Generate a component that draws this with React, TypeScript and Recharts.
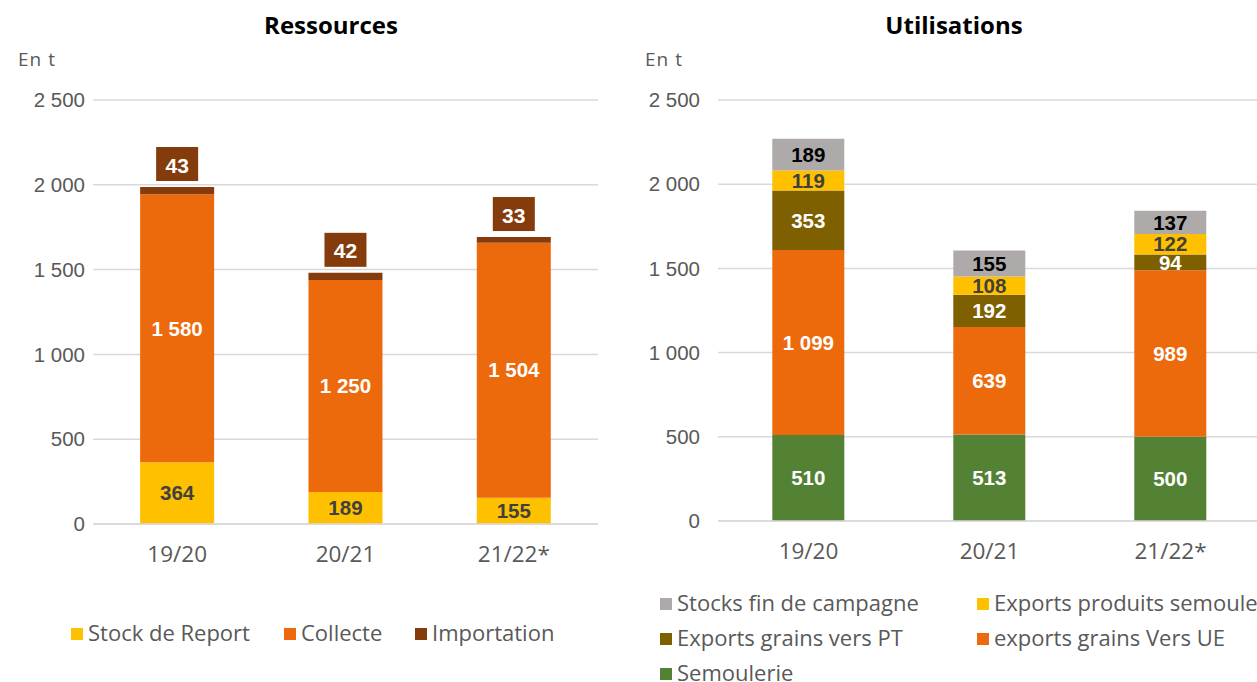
import React from "react";
import { BarChart, Bar, XAxis, YAxis, CartesianGrid, LabelList } from "recharts";

const categories = ["19/20", "20/21", "21/22*"];
const yTicks = [0, 500, 1000, 1500, 2000, 2500];

// Ressources
const stockReport = [364, 189, 155];
const collecte = [1580, 1250, 1504];
const importation = [43, 42, 33];

// Utilisations
const semoulerie = [510, 513, 500];
const exportsUE = [1099, 639, 989];
const exportsPT = [353, 192, 94];
const exportsSemoule = [119, 108, 122];
const stocksFin = [189, 155, 137];

const resData = categories.map((c, i) => ({
  cat: c,
  stock: stockReport[i],
  collecte: collecte[i],
  importation: importation[i],
}));

const useData = categories.map((c, i) => ({
  cat: c,
  sem: semoulerie[i],
  ue: exportsUE[i],
  pt: exportsPT[i],
  semoule: exportsSemoule[i],
  stocks: stocksFin[i],
}));

const C_YELLOW = "#FFC000";
const C_ORANGE = "#EC6A0C";
const C_BROWN = "#843C0C";
const C_GRAY = "#AEAAAA";
const C_OLIVE = "#7F6000";
const C_GREEN = "#548235";

const fmt = (v: number) => {
  const s = String(Math.round(v));
  return s.replace(/\B(?=(\d{3})+(?!\d))/g, " ");
};

const YTICK_FONT = "'Liberation Sans', Arial, sans-serif";
const XTICK_FONT = "'Open Sans', 'Noto Sans', sans-serif";
const LABEL_FONT = "'Liberation Sans', Arial, sans-serif";
const LEGEND_FONT = "'Open Sans', 'Noto Sans', sans-serif";

const labelStyle = (fill: string) => ({
  fill,
  fontFamily: LABEL_FONT,
  fontWeight: 700 as const,
  fontSize: 20.5,
});

const ImportLabel = (props: any) => {
  const { x, y, width, value } = props;
  const cx = Number(x) + Number(width) / 2;
  const bw = 42;
  const bh = 34;
  const by = Number(y) - 6 - bh;
  return (
    <g>
      <rect x={cx - bw / 2} y={by} width={bw} height={bh} fill={C_BROWN} />
      <text
        x={cx}
        y={by + bh / 2 + 1}
        textAnchor="middle"
        dominantBaseline="central"
        fill="#FFFFFF"
        fontFamily={LABEL_FONT}
        fontWeight={700}
        fontSize={21}
      >
        {fmt(value)}
      </text>
    </g>
  );
};

const Sq = ({ color }: { color: string }) => (
  <span
    style={{
      display: "inline-block",
      width: 12,
      height: 12,
      background: color,
      marginRight: 5,
      verticalAlign: "middle",
      position: "relative",
      top: -1,
    }}
  />
);

const legendText: React.CSSProperties = {
  fontFamily: LEGEND_FONT,
  fontSize: 22,
  color: "#595959",
  whiteSpace: "nowrap",
  position: "absolute",
  lineHeight: "26px",
};

const titleStyle: React.CSSProperties = {
  position: "absolute",
  fontFamily: "'Open Sans', 'Noto Sans', sans-serif",
  fontWeight: 700,
  fontSize: 24,
  color: "#000000",
  transform: "translateX(-50%)",
  whiteSpace: "nowrap",
  top: 8,
};

const unitStyle: React.CSSProperties = {
  position: "absolute",
  fontFamily: LEGEND_FONT,
  fontSize: 19,
  color: "#595959",
  top: 46,
  letterSpacing: 1,
};

const yTickStyle = { fill: "#595959", fontFamily: YTICK_FONT, fontSize: 20.5 };
const xTickStyle = { fill: "#595959", fontFamily: XTICK_FONT, fontSize: 22.5 };

export default function App() {
  return (
    <div
      style={{
        position: "absolute",
        left: 0,
        top: 0,
        width: 1257,
        height: 682,
        overflow: "hidden",
        background: "#FFFFFF",
      }}
    >
      <div style={{ ...titleStyle, left: 331 }}>Ressources</div>
      <div style={{ ...titleStyle, left: 954 }}>Utilisations</div>
      <div style={{ ...unitStyle, left: 18 }}>En t</div>
      <div style={{ ...unitStyle, left: 645 }}>En t</div>

      <div style={{ position: "absolute", left: 0, top: 0 }}>
        <BarChart
          width={620}
          height={682}
          data={resData}
          margin={{ top: 100, right: 22, bottom: 118, left: 0 }}
          barCategoryGap="28%"
        >
          <CartesianGrid vertical={false} stroke="#D9D9D9" strokeWidth={1.5} />
          <XAxis
            dataKey="cat"
            height={40}
            axisLine={{ stroke: "#D9D9D9", strokeWidth: 1.5 }}
            tickLine={false}
            tick={xTickStyle}
            tickMargin={16}
          />
          <YAxis
            width={93}
            domain={[0, 2500]}
            ticks={yTicks}
            axisLine={false}
            tickLine={false}
            tickSize={0}
            tickMargin={8}
            tick={yTickStyle}
            tickFormatter={fmt}
            interval={0}
          />
          <Bar dataKey="stock" stackId="a" fill={C_YELLOW} isAnimationActive={false}>
            <LabelList dataKey="stock" position="center" formatter={fmt} style={labelStyle("#404040")} />
          </Bar>
          <Bar dataKey="collecte" stackId="a" fill={C_ORANGE} isAnimationActive={false}>
            <LabelList dataKey="collecte" position="center" formatter={fmt} style={labelStyle("#FFFFFF")} />
          </Bar>
          <Bar dataKey="importation" stackId="a" fill={C_BROWN} isAnimationActive={false}>
            <LabelList dataKey="importation" content={ImportLabel} />
          </Bar>
        </BarChart>
      </div>

      <div style={{ position: "absolute", left: 625, top: 0 }}>
        <BarChart
          width={640}
          height={682}
          data={useData}
          margin={{ top: 100, right: 4, bottom: 121, left: 0 }}
          barCategoryGap="30%"
        >
          <CartesianGrid vertical={false} stroke="#D9D9D9" strokeWidth={1.5} />
          <XAxis
            dataKey="cat"
            height={40}
            axisLine={{ stroke: "#D9D9D9", strokeWidth: 1.5 }}
            tickLine={false}
            tick={xTickStyle}
            tickMargin={16}
          />
          <YAxis
            width={93}
            domain={[0, 2500]}
            ticks={yTicks}
            axisLine={false}
            tickLine={false}
            tickSize={0}
            tickMargin={18}
            tick={yTickStyle}
            tickFormatter={fmt}
            interval={0}
          />
          <Bar dataKey="sem" stackId="b" fill={C_GREEN} isAnimationActive={false}>
            <LabelList dataKey="sem" position="center" formatter={fmt} style={labelStyle("#FFFFFF")} />
          </Bar>
          <Bar dataKey="ue" stackId="b" fill={C_ORANGE} isAnimationActive={false}>
            <LabelList dataKey="ue" position="center" formatter={fmt} style={labelStyle("#FFFFFF")} />
          </Bar>
          <Bar dataKey="pt" stackId="b" fill={C_OLIVE} isAnimationActive={false}>
            <LabelList dataKey="pt" position="center" formatter={fmt} style={labelStyle("#FFFFFF")} />
          </Bar>
          <Bar dataKey="semoule" stackId="b" fill={C_YELLOW} isAnimationActive={false}>
            <LabelList dataKey="semoule" position="center" formatter={fmt} style={labelStyle("#404040")} />
          </Bar>
          <Bar dataKey="stocks" stackId="b" fill={C_GRAY} isAnimationActive={false}>
            <LabelList dataKey="stocks" position="center" formatter={fmt} style={labelStyle("#000000")} />
          </Bar>
        </BarChart>
      </div>

      {/* Legends */}
      <div style={{ ...legendText, left: 71, top: 619 }}>
        <Sq color={C_YELLOW} />Stock de Report
      </div>
      <div style={{ ...legendText, left: 284, top: 619 }}>
        <Sq color={C_ORANGE} />Collecte
      </div>
      <div style={{ ...legendText, left: 415, top: 619 }}>
        <Sq color={C_BROWN} />Importation
      </div>

      <div style={{ ...legendText, left: 660, top: 589 }}>
        <Sq color={C_GRAY} />Stocks fin de campagne
      </div>
      <div style={{ ...legendText, left: 977, top: 589 }}>
        <Sq color={C_YELLOW} />Exports produits semoule
      </div>
      <div style={{ ...legendText, left: 660, top: 624 }}>
        <Sq color={C_OLIVE} />Exports grains vers PT
      </div>
      <div style={{ ...legendText, left: 977, top: 624 }}>
        <Sq color={C_ORANGE} />exports grains Vers UE
      </div>
      <div style={{ ...legendText, left: 660, top: 659 }}>
        <Sq color={C_GREEN} />Semoulerie
      </div>
    </div>
  );
}
